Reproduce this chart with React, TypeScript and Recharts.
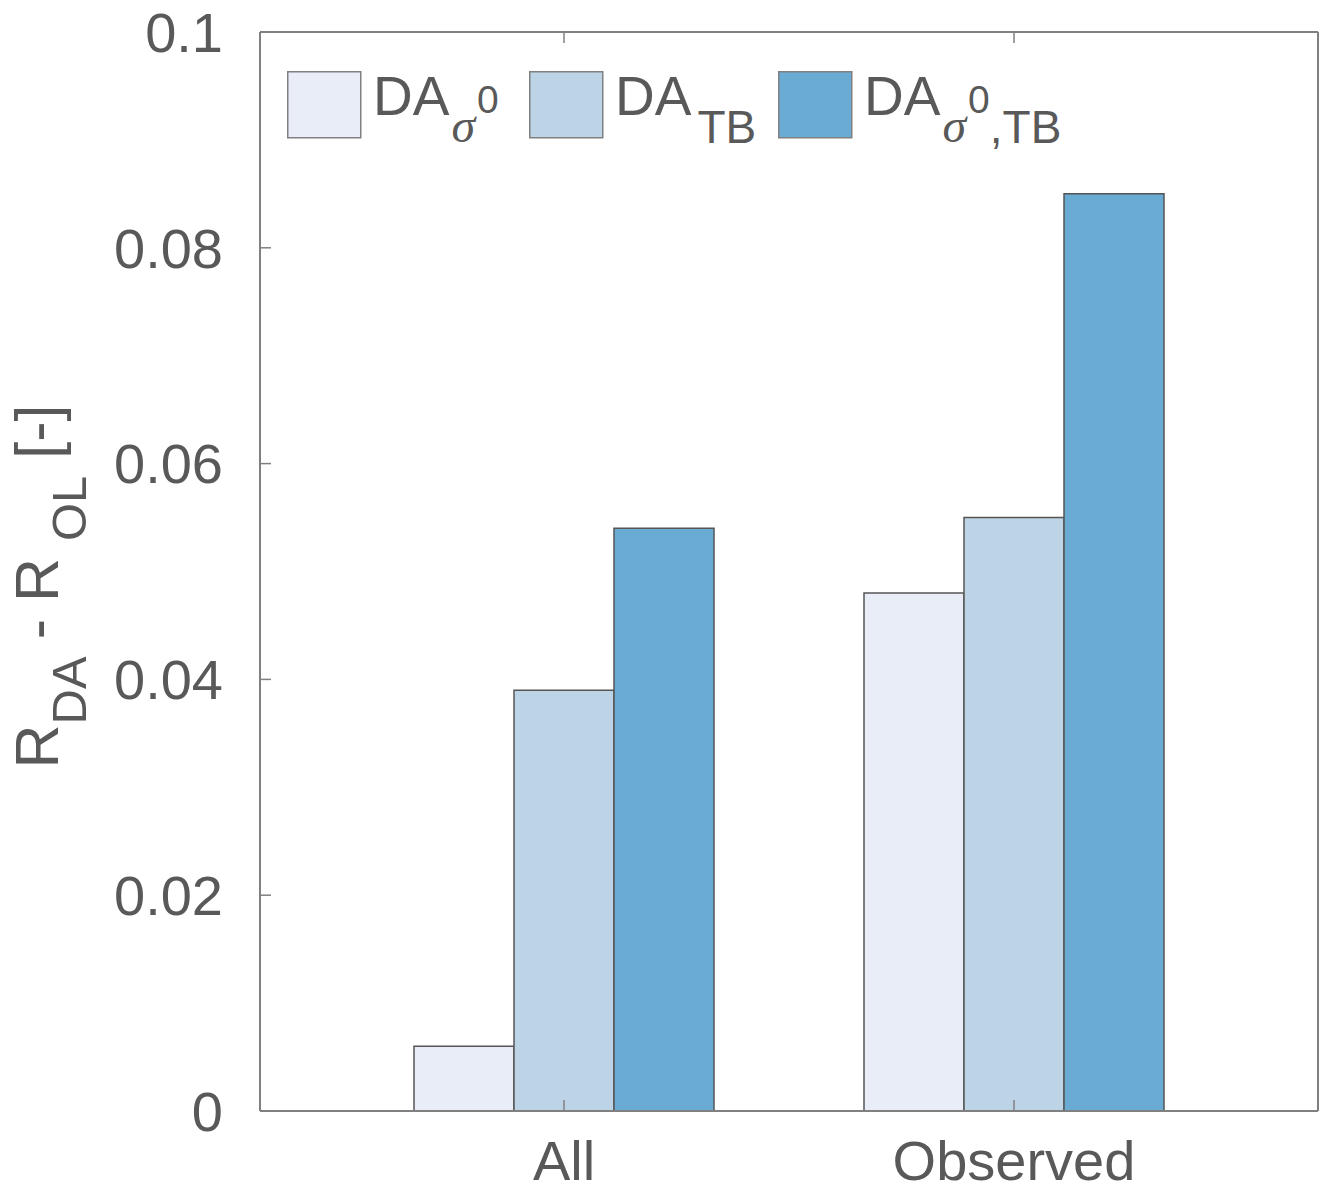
import { Bar, BarChart, Legend, XAxis, YAxis } from 'recharts';

// values
const categories = ['All', 'Observed'];
const daSigma0 = [0.006, 0.048];
const daTb = [0.039, 0.055];
const daSigma0Tb = [0.054, 0.085];
const yTicks = [0, 0.02, 0.04, 0.06, 0.08, 0.1];

const data = categories.map((name, i) => ({
  name,
  s0: daSigma0[i],
  tb: daTb[i],
  both: daSigma0Tb[i],
}));

const TEXT = '#595959';
const AXIS = '#808080';
const EDGE = '#555555';
const FONT = '"Liberation Sans", Arial, Helvetica, sans-serif';
const SERIF = '"Liberation Serif", "DejaVu Serif", serif';

const SERIES = [
  { key: 's0', fill: '#e9edf8' },
  { key: 'tb', fill: '#bcd4e5' },
  { key: 'both', fill: '#6aabd4' },
];
const seriesOrder = SERIES.map((s) => s.key);

// left edge of each legend entry, relative to the legend box
const legendOffsets = [0, 242, 491];

function legendText(key: string) {
  const sigma = (
    <tspan dx={2} dy={27} fontSize={48} fontStyle="italic" fontFamily={SERIF}>
      σ
    </tspan>
  );
  if (key === 's0') {
    return (
      <>
        DA
        {sigma}
        <tspan dx={2} dy={-29} fontSize={39}>0</tspan>
      </>
    );
  }
  if (key === 'tb') {
    return (
      <>
        DA
        <tspan dx={6} dy={28} fontSize={46}>TB</tspan>
      </>
    );
  }
  return (
    <>
      DA
      {sigma}
      <tspan dx={2} dy={-29} fontSize={39}>0</tspan>
      <tspan dy={30} fontSize={46}>,TB</tspan>
    </>
  );
}

function renderLegend(props: any) {
  const payload = [...(props.payload || [])].sort(
    (a: any, b: any) => seriesOrder.indexOf(a.dataKey) - seriesOrder.indexOf(b.dataKey),
  );
  return (
    <svg width={820} height={90} style={{ display: 'block', overflow: 'visible' }}>
      {payload.map((entry: any, i: number) => {
        const x0 = legendOffsets[i] ?? i * 245;
        return (
          <g key={entry.dataKey ?? i} transform={`translate(${x0},0)`}>
            <rect x={0.75} y={0.75} width={73} height={66} fill={entry.color} stroke={AXIS} strokeWidth={1.5} />
            <text x={86} y={44} fontSize={55} fill={TEXT} fontFamily={FONT}>
              {legendText(String(entry.dataKey))}
            </text>
          </g>
        );
      })}
    </svg>
  );
}

function renderYLabel(props: any) {
  const vb = props.viewBox || { x: 0, y: 0, width: 0, height: 0 };
  const cx = vb.x + 58;
  const cy = vb.y + vb.height / 2 + 15;
  return (
    <text
      transform={`translate(${cx},${cy}) rotate(-90)`}
      textAnchor="middle"
      fontSize={61}
      fill={TEXT}
      fontFamily={FONT}
      style={{ whiteSpace: 'pre' }}
    >
      R
      <tspan dy={28} fontSize={49}>DA</tspan>
      <tspan dy={-28}> - R </tspan>
      <tspan dy={28} fontSize={49}>OL</tspan>
      <tspan dy={-28}> [-]</tspan>
    </text>
  );
}

export default function App() {
  const tick = { fill: TEXT, fontSize: 56, fontFamily: FONT };
  const axisLine = { stroke: AXIS, strokeWidth: 2 };
  const tickLine = { stroke: AXIS, strokeWidth: 1.5 };
  const blank = () => '';

  return (
    <div style={{ position: 'absolute', left: 0, top: 0, background: '#fff' }}>
      <BarChart
        width={1328}
        height={1192}
        data={data}
        margin={{ top: 31, right: 9, bottom: 0, left: 0 }}
        barCategoryGap={75}
        barGap={0}
      >
        <XAxis
          dataKey="name"
          height={81}
          padding={{ left: 79, right: 79 }}
          tick={tick}
          tickSize={-11}
          tickMargin={40}
          axisLine={axisLine}
          tickLine={tickLine}
          interval={0}
        />
        <XAxis
          xAxisId="top"
          dataKey="name"
          orientation="top"
          height={1}
          padding={{ left: 79, right: 79 }}
          tickFormatter={blank}
          tickSize={-11}
          axisLine={axisLine}
          tickLine={tickLine}
          interval={0}
        />
        <YAxis
          width={260}
          domain={[0, 0.1]}
          ticks={yTicks}
          tick={tick}
          tickSize={-11}
          tickMargin={48}
          axisLine={axisLine}
          tickLine={tickLine}
          interval={0}
          label={renderYLabel}
        />
        <YAxis
          yAxisId="right"
          orientation="right"
          width={1}
          domain={[0, 0.1]}
          ticks={yTicks}
          tickFormatter={blank}
          tickSize={-11}
          axisLine={axisLine}
          tickLine={tickLine}
          interval={0}
        />
        <Legend
          content={renderLegend}
          layout="horizontal"
          verticalAlign="middle"
          wrapperStyle={{ left: 287, top: 71, width: 820 }}
        />
        {SERIES.map((s) => (
          <Bar
            key={s.key}
            dataKey={s.key}
            fill={s.fill}
            stroke={EDGE}
            strokeWidth={1.5}
            isAnimationActive={false}
          />
        ))}
      </BarChart>
    </div>
  );
}
